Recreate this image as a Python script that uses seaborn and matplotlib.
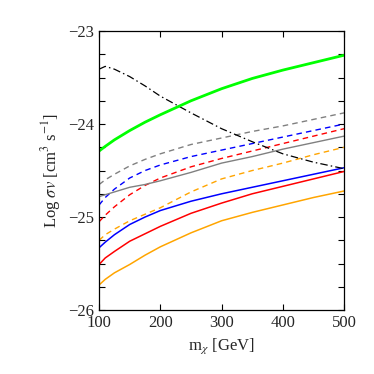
import matplotlib
matplotlib.use("Agg")
import matplotlib.pyplot as plt
from matplotlib.ticker import MultipleLocator
import numpy as np
import pandas as pd
import seaborn as sns

# dark matter mass grid [GeV]
mass = [100, 110, 125, 150, 175, 200, 250, 300, 350, 400, 450, 500]

# log10 of <sigma v> [cm^3 s^-1]
green_solid = [-24.29, -24.24, -24.17, -24.07, -23.98, -23.90, -23.75, -23.62, -23.51, -23.42, -23.34, -23.26]
black_dashdot = [-23.41, -23.38, -23.41, -23.49, -23.59, -23.70, -23.88, -24.05, -24.19, -24.32, -24.41, -24.48]
gray_dashed = [-24.65, -24.60, -24.54, -24.45, -24.38, -24.32, -24.22, -24.15, -24.08, -24.02, -23.95, -23.88]
blue_dashed = [-24.87, -24.79, -24.70, -24.58, -24.50, -24.44, -24.35, -24.28, -24.21, -24.14, -24.07, -24.00]
red_dashed = [-25.05, -24.98, -24.89, -24.76, -24.66, -24.58, -24.46, -24.37, -24.29, -24.21, -24.13, -24.05]
gray_solid = [-24.78, -24.76, -24.73, -24.68, -24.65, -24.61, -24.52, -24.42, -24.35, -24.27, -24.20, -24.13]
orange_dashed = [-25.25, -25.19, -25.13, -25.04, -24.97, -24.90, -24.73, -24.59, -24.50, -24.42, -24.33, -24.25]
blue_solid = [-25.33, -25.27, -25.19, -25.08, -25.00, -24.93, -24.83, -24.75, -24.68, -24.61, -24.54, -24.47]
red_solid = [-25.51, -25.44, -25.37, -25.26, -25.18, -25.10, -24.96, -24.85, -24.75, -24.67, -24.59, -24.51]
orange_solid = [-25.73, -25.67, -25.60, -25.51, -25.41, -25.32, -25.17, -25.04, -24.95, -24.87, -24.79, -24.72]

sns.set_style("ticks")
plt.rcParams["font.family"] = ["Liberation Serif", "DejaVu Serif"]
plt.rcParams["mathtext.fontset"] = "stix"

fig = plt.figure(figsize=(3.74, 3.74), dpi=100)
ax = fig.add_axes([0.265, 0.171, 0.655, 0.746])

dash = (0, (4, 3))
dashdot = (0, (6, 2.5, 1.2, 2.5))
curves = [
    (gray_dashed, "#808080", dash, 1.0),
    (blue_dashed, "#0000ff", dash, 1.0),
    (red_dashed, "#ff0000", dash, 1.0),
    (orange_dashed, "#ffa500", dash, 1.0),
    (gray_solid, "#808080", "-", 1.0),
    (blue_solid, "#0000ff", "-", 1.1),
    (red_solid, "#ff0000", "-", 1.1),
    (orange_solid, "#ffa500", "-", 1.1),
    (black_dashdot, "black", dashdot, 0.9),
    (green_solid, "#00ff00", "-", 2.0),
]
for vals, col, ls, lw in curves:
    sns.lineplot(x=mass, y=vals, ax=ax, color=col, linestyle=ls, linewidth=lw)

ax.set_xlim(100, 500)
ax.set_ylim(-26, -23)
ax.xaxis.set_major_locator(MultipleLocator(100))
ax.yaxis.set_major_locator(MultipleLocator(1))
ax.yaxis.set_minor_locator(MultipleLocator(0.25))
ax.tick_params(which="both", direction="in", top=True, right=True,
               labelsize=12, color="black")
ax.tick_params(which="major", length=4, width=0.8)
ax.tick_params(which="minor", length=4, width=0.8)
for s in ax.spines.values():
    s.set_linewidth(0.9)
    s.set_color("black")

ax.set_xlabel(r"m$_\chi$ [GeV]", fontsize=12)
ax.set_ylabel(r"Log $\sigma v$ [cm$^3$ s$^{-1}$]", fontsize=12)

fig.savefig("out.png", dpi=100)
